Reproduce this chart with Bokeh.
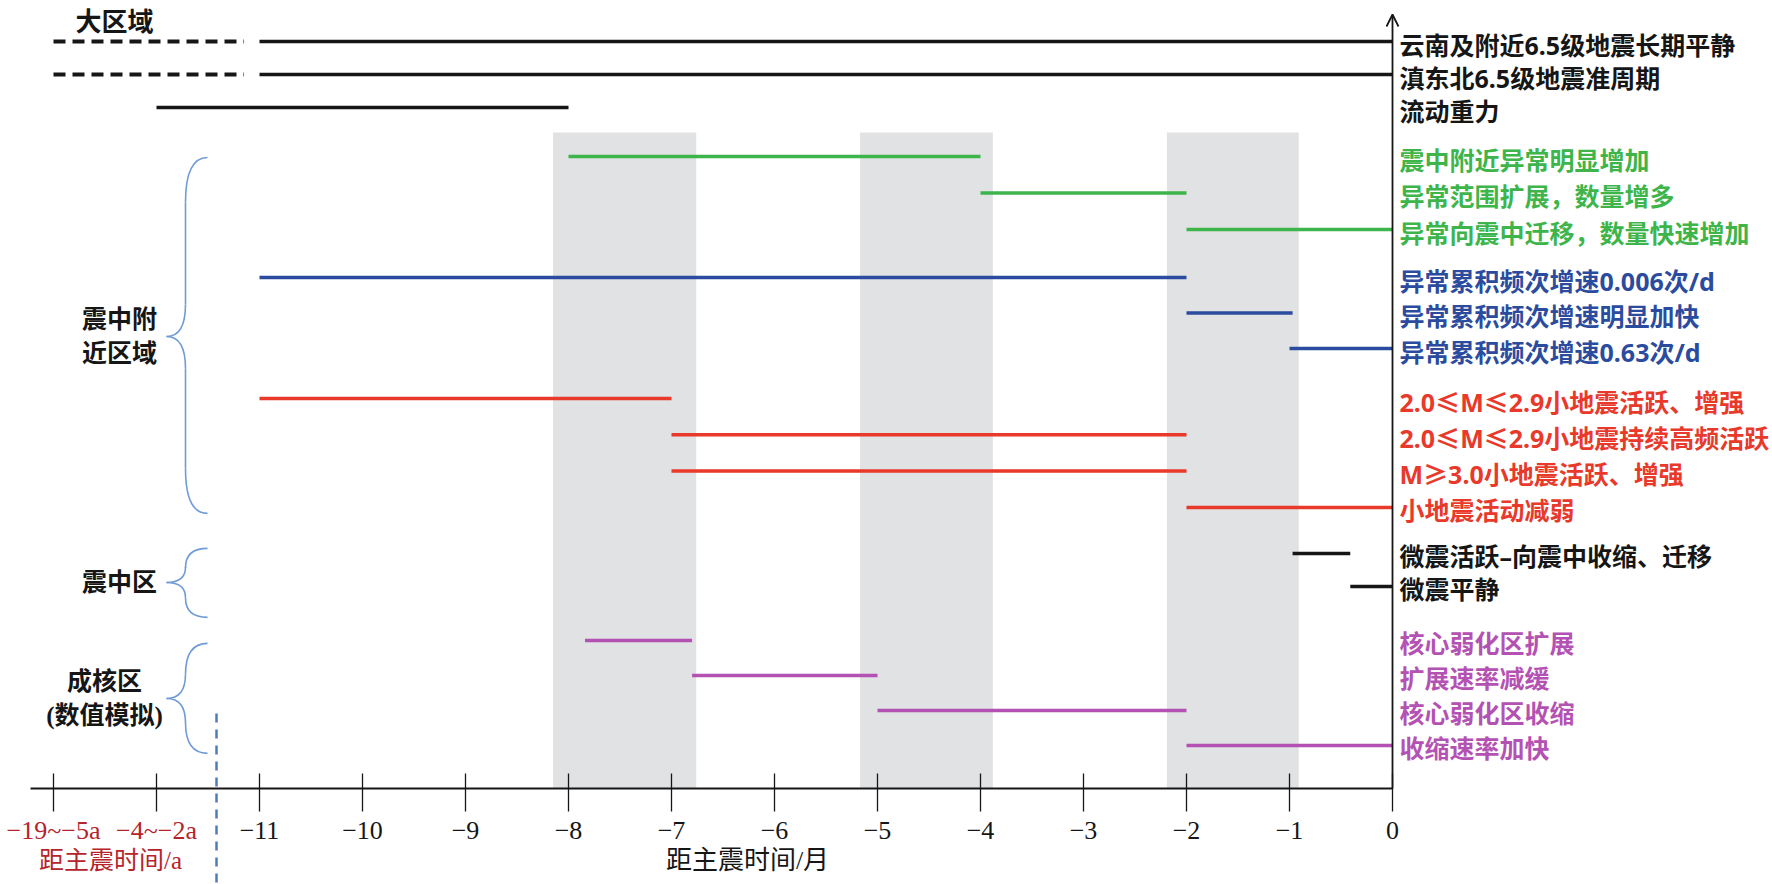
from bokeh.plotting import figure
from bokeh.models import Range1d, Arrow, OpenHead, ColumnDataSource
from bokeh.core.properties import value
from bokeh.embed import file_html
from bokeh.resources import INLINE

# ---------------- data ----------------
labels = [
    "云南及附近6.5级地震长期平静",
    "滇东北6.5级地震准周期",
    "流动重力",
    "震中附近异常明显增加",
    "异常范围扩展，数量增多",
    "异常向震中迁移，数量快速增加",
    "异常累积频次增速0.006次/d",
    "异常累积频次增速明显加快",
    "异常累积频次增速0.63次/d",
    "2.0≤M≤2.9小地震活跃、增强",
    "2.0≤M≤2.9小地震持续高频活跃",
    "M≥3.0小地震活跃、增强",
    "小地震活动减弱",
    "微震活跃–向震中收缩、迁移",
    "微震平静",
    "核心弱化区扩展",
    "扩展速率减缓",
    "核心弱化区收缩",
    "收缩速率加快",
]
starts = [-11, -11, -12, -8, -4, -2, -11, -2, -1, -11, -7, -7, -2, -0.97, -0.41, -7.84, -6.8, -5, -2]
ends = [0, 0, -8, -4, -2, 0, -2, -0.97, 0, -7, -2, -2, 0, -0.41, 0, -6.8, -5, -2, 0]
groups = [0, 0, 0, 1, 1, 1, 2, 2, 2, 3, 3, 3, 3, 4, 4, 5, 5, 5, 5]
group_colors = ["#161616", "#3DB54A", "#2B4C9E", "#E8392B", "#161616", "#B452B3"]

# dashed (year-scale) extension of the first two rows
ext_rows = [0, 1]
ext_starts = [-13, -13]
ext_ends = [-11.15, -11.15]

# shaded periods (months)
shade_starts = [-8.15, -5.17, -2.19]
shade_ends = [-6.76, -3.88, -0.91]

# ticks
tick_values = [-13, -12, -11, -10, -9, -8, -7, -6, -5, -4, -3, -2, -1, 0]
tick_labels = ["−19~−5a", "−4~−2a", "−11", "−10", "−9", "−8", "−7", "−6",
               "−5", "−4", "−3", "−2", "−1", "0"]
year_ticks = 2  # first two ticks are in years

# region annotations: (label lines, first row, last row)
region_names = [["震中附", "近区域"], ["震中区"], ["成核区", "(数值模拟)"]]
region_rows = [(3, 12), (13, 14), (15, 18)]

# ---------------- layout ----------------
W, H = 1772, 884
UNIT = 103.0          # px per month
AXIS_Y = 788          # y of time axis (px)
ROW0 = 41
group_pitch = [33, 36.5, 35.5, 36.3, 33, 35]
group_sep = [0, 49, 48, 50, 46, 54]

def xpx(px):  # px -> data x
    return (px - 1392) / UNIT

row_y = []
for i, g in enumerate(groups):
    if i == 0:
        row_y.append(ROW0)
    elif g == groups[i - 1]:
        row_y.append(row_y[-1] + group_pitch[g])
    else:
        row_y.append(row_y[-1] + group_sep[g])
row_col = [group_colors[g] for g in groups]

p = figure(width=W, height=H, output_backend="svg", toolbar_location=None,
           x_range=Range1d(xpx(0), xpx(W)), y_range=Range1d(H, 0),
           x_axis_location=None, y_axis_location=None, min_border=0,
           outline_line_color=None, background_fill_color="white")
p.grid.visible = False

CJK = value("Noto Sans CJK SC")
SANSMIX = value("Noto Sans, Noto Sans CJK SC")
MIX = value("Liberation Serif, Noto Sans CJK SC")
SERIF = value("Liberation Serif")

# shaded bands
p.quad(left=shade_starts, right=shade_ends, top=132, bottom=AXIS_Y,
       fill_color="#E1E2E4", line_color=None)

# interval lines
src = ColumnDataSource(dict(x0=starts, x1=ends, y=row_y, c=row_col, t=labels))
p.segment(x0="x0", y0="y", x1="x1", y1="y", color="c", line_width=3.5, source=src)
p.segment(x0=ext_starts, y0=[row_y[r] for r in ext_rows], x1=ext_ends,
          y1=[row_y[r] for r in ext_rows], color="#161616", line_width=4,
          line_dash="12 7")

# right labels
p.text(x=0, y="y", text="t", source=src, text_color="c", x_offset=7, y_offset=3,
       text_font=SANSMIX, text_font_size="25px", text_font_style="bold",
       text_baseline="middle", text_align="left")

# time axis
p.segment(x0=xpx(30), y0=AXIS_Y, x1=0, y1=AXIS_Y, color="#161616", line_width=1.8)
p.segment(x0=tick_values, y0=AXIS_Y - 15, x1=tick_values, y1=AXIS_Y + 23,
          color="#161616", line_width=1.3)
tick_colors = ["#B5242B"] * year_ticks + ["#161616"] * (len(tick_values) - year_ticks)
p.text(x=tick_values, y=AXIS_Y + 42, text=tick_labels, text_color=tick_colors,
       text_font=SERIF, text_font_size="26px", text_align="center",
       text_baseline="middle")
p.text(x=[xpx(747)], y=[AXIS_Y + 72], text=["距主震时间/月"], text_color="#161616",
       text_font=MIX, text_font_size="26px", text_align="center", text_baseline="middle")
p.text(x=[xpx(110)], y=[AXIS_Y + 72], text=["距主震时间/a"], text_color="#B5242B",
       text_font=MIX, text_font_size="25px", text_align="center", text_baseline="middle")

# vertical axis with arrow
p.add_layout(Arrow(end=OpenHead(size=12, line_width=1.8, line_color="#161616"),
                   x_start=0, y_start=AXIS_Y, x_end=0, y_end=14,
                   line_width=1.8, line_color="#161616"))

# separator between year and month scales
p.segment(x0=xpx(216), y0=713, x1=xpx(216), y1=884, color="#4A7BC6",
          line_width=2.5, line_dash="9 7")

# top-left label
p.text(x=[xpx(114)], y=[19], text=["大区域"], text_color="#161616", text_font=CJK,
       text_font_size="26px", text_font_style="bold", text_align="center",
       text_baseline="middle")

# braces
pads = [(1, 6, 336), (-5, 31, 582), (3, 8, 698)]
XR, XM, XT = xpx(207), xpx(185), xpx(166)
for (r0, r1), (pt, pb, tip), names in zip(region_rows, pads, region_names):
    top = row_y[r0] + pt
    bot = row_y[r1] + pb
    h = bot - top
    rc = min(45, h * 0.28)
    rt = min(32, h * 0.22)
    bc = "#6F9BD6"
    p.quadratic(x0=[XR, XM, XT, XM], y0=[top, tip - rt, tip, bot - rc],
                x1=[XM, XT, XM, XR], y1=[top + rc, tip, tip + rt, bot],
                cx=[XM, XM, XM, XM], cy=[top, tip, tip, bot],
                line_color=bc, line_width=1.6)
    p.segment(x0=[XM, XM], y0=[top + rc, tip + rt], x1=[XM, XM], y1=[tip - rt, bot - rc],
              line_color=bc, line_width=1.6)
    n = len(names)
    ys = [tip + (k - (n - 1) / 2) * 34 for k in range(n)]
    cx = xpx(119) if n == 2 and names[1] == "近区域" else xpx(119 if n == 1 else 104)
    p.text(x=[cx] * n, y=ys, text=names, text_color="#161616", text_font=MIX,
           text_font_size="25px", text_font_style="bold", text_align="center",
           text_baseline="middle")

open("out.html", "w").write(file_html(p, INLINE))
